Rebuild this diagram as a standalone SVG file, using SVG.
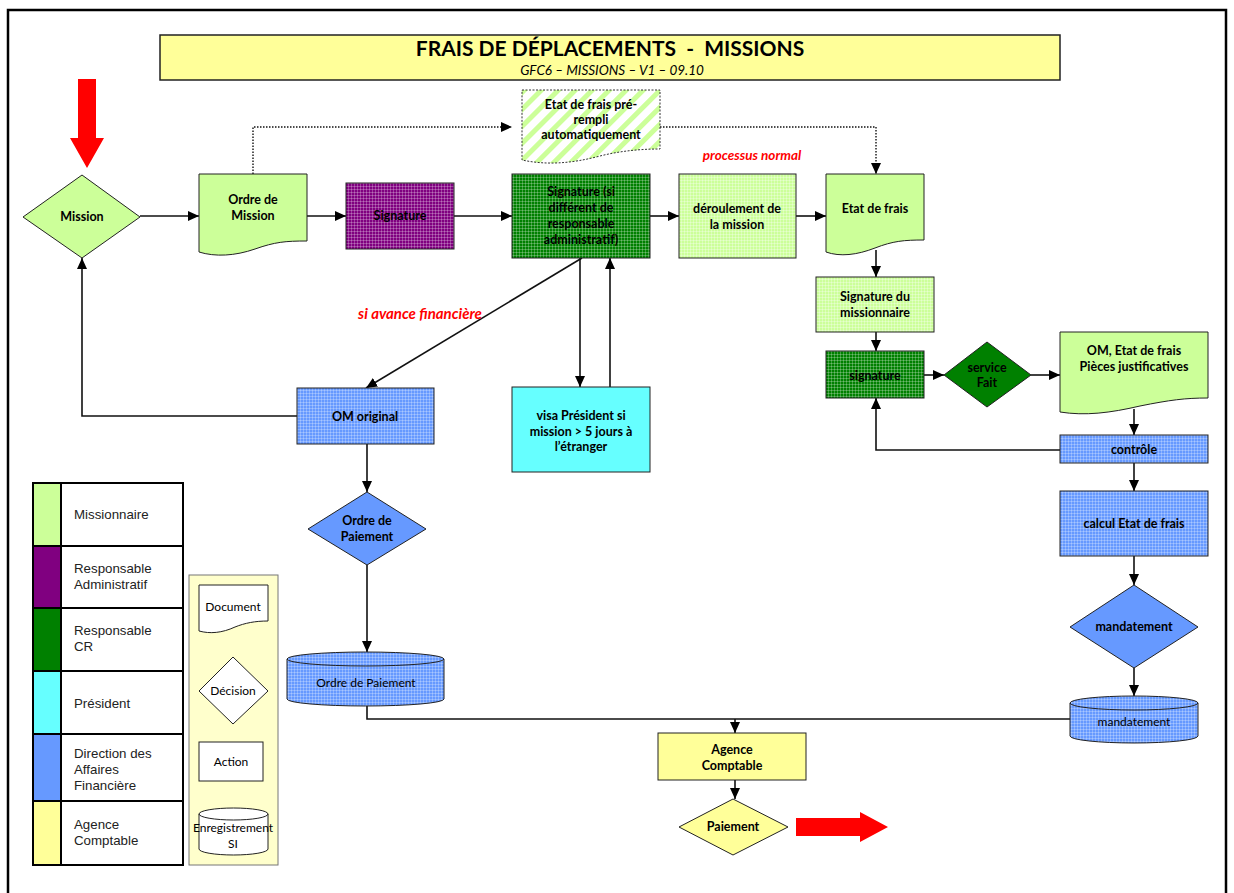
<svg xmlns="http://www.w3.org/2000/svg" width="1234" height="893" viewBox="0 0 1234 893">
  <style>
    .lbl { font-family: Lato, "Liberation Sans", sans-serif; font-weight: bold; font-size: 12.5px; fill: #000; text-anchor: middle; }
    .reg { font-family: Lato, "Liberation Sans", sans-serif; font-size: 12px; fill: #000; text-anchor: middle; }
    .leg { font-family: "Liberation Sans", Arial, sans-serif; font-size: 13.3px; fill: #222; }
    .red { font-family: Lato, "Liberation Sans", sans-serif; font-weight: bold; font-style: italic; fill: #ff0000; text-anchor: middle; }
    .box { stroke: #222; stroke-width: 1.5; }
    .thin { stroke: #222; stroke-width: 1; }
    .conn { fill: none; stroke: #111; stroke-width: 1.6; }
    .dot { fill: none; stroke: #111; stroke-width: 1.4; stroke-dasharray: 1.5 1.5; }
  </style>
  <defs>
    <marker id="arr" markerUnits="userSpaceOnUse" markerWidth="12" markerHeight="10" refX="11" refY="5" orient="auto">
      <path d="M0,0 L11,5 L0,10 Z" fill="#000"/>
    </marker>
    <pattern id="gridGreen" width="3" height="3" patternUnits="userSpaceOnUse">
      <rect width="3" height="3" fill="#008000"/>
      <path d="M0,0.5 H3 M0.5,0 V3" stroke="#ffffff" stroke-opacity="0.25" stroke-width="1"/>
    </pattern>
    <pattern id="gridPurple" width="3" height="3" patternUnits="userSpaceOnUse">
      <rect width="3" height="3" fill="#800080"/>
      <path d="M0,0.5 H3 M0.5,0 V3" stroke="#ffffff" stroke-opacity="0.25" stroke-width="1"/>
    </pattern>
    <pattern id="gridBlue" width="3" height="3" patternUnits="userSpaceOnUse">
      <rect width="3" height="3" fill="#6699ff"/>
      <path d="M0,0.5 H3 M0.5,0 V3" stroke="#ffffff" stroke-opacity="0.25" stroke-width="1"/>
    </pattern>
    <pattern id="gridLight" width="3" height="3" patternUnits="userSpaceOnUse">
      <rect width="3" height="3" fill="#ccff99"/>
      <path d="M0,0.5 H3 M0.5,0 V3" stroke="#ffffff" stroke-opacity="0.3" stroke-width="1"/>
    </pattern>
    <pattern id="hatch" width="12" height="12" patternUnits="userSpaceOnUse" patternTransform="rotate(45)">
      <rect width="12" height="12" fill="#ffffff"/>
      <rect width="5" height="12" fill="#ccff99"/>
    </pattern>
  </defs>

  <!-- page frame -->
  <path d="M8,893 V10 H1226 V893" fill="none" stroke="#000" stroke-width="2.5"/>

  <!-- title -->
  <g id="title">
    <rect x="160" y="35" width="900" height="45" fill="#ffff99" class="box"/>
    <text x="610" y="56" font-family="Lato, 'Liberation Sans', sans-serif" font-weight="bold" font-size="21" text-anchor="middle" xml:space="preserve">FRAIS DE DÉPLACEMENTS  -  MISSIONS</text>
    <text x="612" y="75" font-family="Lato, 'Liberation Sans', sans-serif" font-style="italic" font-size="13.5" text-anchor="middle">GFC6 – MISSIONS – V1 – 09.10</text>
  </g>

  <!-- start / end arrows -->
  <path id="start-arrow" d="M78,79 H96 V138 H104 L87,168 L70,138 H78 Z" fill="#ff0000"/>
  <path id="end-arrow" d="M796,818 H860 V812 L888,827 L860,842 V836 H796 Z" fill="#ff0000"/>

  <!-- connectors -->
  <g id="connectors">
    <path class="dot" d="M253,174 V127 H512" marker-end="url(#arr)"/>
    <path class="dot" d="M660,127 H876 V174" marker-end="url(#arr)"/>
    <path class="conn" d="M140,216 H199" marker-end="url(#arr)"/>
    <path class="conn" d="M307,216 H346" marker-end="url(#arr)"/>
    <path class="conn" d="M454,216 H512" marker-end="url(#arr)"/>
    <path class="conn" d="M650,216 H679" marker-end="url(#arr)"/>
    <path class="conn" d="M796,216 H826" marker-end="url(#arr)"/>
    <path class="conn" d="M876,250 V277" marker-end="url(#arr)"/>
    <path class="conn" d="M876,332 V351" marker-end="url(#arr)"/>
    <path class="conn" d="M924,375 H944" marker-end="url(#arr)"/>
    <path class="conn" d="M1031,375 H1060" marker-end="url(#arr)"/>
    <path class="conn" d="M1134,409 V435" marker-end="url(#arr)"/>
    <path class="conn" d="M1060,450 H876 V398" marker-end="url(#arr)"/>
    <path class="conn" d="M1134,463 V491" marker-end="url(#arr)"/>
    <path class="conn" d="M1134,556 V585" marker-end="url(#arr)"/>
    <path class="conn" d="M1134,668 V696" marker-end="url(#arr)"/>
    <path class="conn" d="M582,258 L366,388" marker-end="url(#arr)"/>
    <path class="conn" d="M580,258 V387" marker-end="url(#arr)"/>
    <path class="conn" d="M610,387 V258" marker-end="url(#arr)"/>
    <path class="conn" d="M297,416 H82 V258" marker-end="url(#arr)"/>
    <path class="conn" d="M367,444 V492" marker-end="url(#arr)"/>
    <path class="conn" d="M367,565 V652" marker-end="url(#arr)"/>
    <path class="conn" d="M367,706 V719 H1070"/>
    <path class="conn" d="M735,719 V733" marker-end="url(#arr)"/>
    <path class="conn" d="M735,780 V799" marker-end="url(#arr)"/>
  </g>

  <!-- connector labels -->
  <text class="red" x="752" y="160" font-size="13.5">processus normal</text>
  <text class="red" x="420" y="319" font-size="15">si avance financière</text>

  <!-- nodes -->
  <g id="n-mission">
    <polygon points="82,175 140,217 82,258 23,217" fill="#ccff99" class="thin"/>
    <text class="lbl" x="82" y="221">Mission</text>
  </g>
  <g id="n-ordre-mission">
    <path d="M199,174 H307 V241 C285,241 275,242 255,249 C235,256 215,257 199,252 Z" fill="#ccff99" class="thin"/>
    <text class="lbl" x="253" y="204">Ordre de</text>
    <text class="lbl" x="253" y="220">Mission</text>
  </g>
  <g id="n-signature-ra">
    <rect x="346" y="183" width="108" height="66" fill="url(#gridPurple)" class="thin"/>
    <text class="lbl" x="400" y="220">Signature</text>
  </g>
  <g id="n-prerempli">
    <path d="M522,90 H660 V149 C640,149 620,151 600,156 C570,164 545,165 522,160 Z" fill="url(#hatch)" stroke="#333" stroke-width="1" stroke-dasharray="2 1.5"/>
    <text class="lbl" x="591" y="109">Etat de frais pré-</text>
    <text class="lbl" x="591" y="124">rempli</text>
    <text class="lbl" x="591" y="139">automatiquement</text>
  </g>
  <g id="n-signature-cr">
    <rect x="512" y="174" width="138" height="84" fill="url(#gridGreen)" class="thin"/>
    <text class="lbl" x="581" y="196">Signature (si</text>
    <text class="lbl" x="581" y="212">différent de</text>
    <text class="lbl" x="581" y="228">responsable</text>
    <text class="lbl" x="581" y="244">administratif)</text>
  </g>
  <g id="n-deroulement">
    <rect x="679" y="174" width="117" height="84" fill="url(#gridLight)" class="thin"/>
    <text class="lbl" x="737" y="213">déroulement de</text>
    <text class="lbl" x="737" y="229">la mission</text>
  </g>
  <g id="n-etat-frais">
    <path d="M826,174 H924 V240 C904,240 893,241 875,248 C857,255 840,257 826,252 Z" fill="#ccff99" class="thin"/>
    <text class="lbl" x="875" y="213">Etat de frais</text>
  </g>
  <g id="n-signature-missionnaire">
    <rect x="816" y="277" width="118" height="55" fill="url(#gridLight)" class="thin"/>
    <text class="lbl" x="875" y="301">Signature du</text>
    <text class="lbl" x="875" y="317">missionnaire</text>
  </g>
  <g id="n-signature">
    <rect x="826" y="351" width="98" height="47" fill="url(#gridGreen)" class="thin"/>
    <text class="lbl" x="875" y="380">signature</text>
  </g>
  <g id="n-service-fait">
    <polygon points="987,342 1031,375 987,407 944,375" fill="#008000" class="thin"/>
    <text class="lbl" x="987" y="372">service</text>
    <text class="lbl" x="987" y="387">Fait</text>
  </g>
  <g id="n-pieces">
    <path d="M1060,332 H1208 V398 C1185,398 1170,400 1140,406 C1110,413 1085,416 1060,412 Z" fill="#ccff99" class="thin"/>
    <text class="lbl" x="1134" y="355">OM, Etat de frais</text>
    <text class="lbl" x="1134" y="371">Pièces justificatives</text>
  </g>
  <g id="n-controle">
    <rect x="1060" y="435" width="148" height="28" fill="url(#gridBlue)" class="thin"/>
    <text class="lbl" x="1134" y="454">contrôle</text>
  </g>
  <g id="n-calcul">
    <rect x="1060" y="491" width="148" height="65" fill="url(#gridBlue)" class="thin"/>
    <text class="lbl" x="1134" y="528">calcul Etat de frais</text>
  </g>
  <g id="n-mandatement">
    <polygon points="1134,585 1198,627 1134,668 1070,627" fill="#6699ff" class="thin"/>
    <text class="lbl" x="1134" y="631">mandatement</text>
  </g>
  <g id="n-mandatement-si">
    <path d="M1070,703 A64,7 0 0 1 1198,703 V736 A64,7 0 0 1 1070,736 Z" fill="url(#gridBlue)" class="thin"/>
    <path d="M1070,703 A64,7 0 0 0 1198,703" fill="none" class="thin"/>
    <text class="reg" x="1134" y="726">mandatement</text>
  </g>
  <g id="n-om-original">
    <rect x="297" y="388" width="137" height="56" fill="url(#gridBlue)" class="thin"/>
    <text class="lbl" x="365" y="421">OM original</text>
  </g>
  <g id="n-visa">
    <rect x="512" y="387" width="138" height="85" fill="#66ffff" class="thin"/>
    <text class="lbl" x="581" y="420">visa Président si</text>
    <text class="lbl" x="581" y="436">mission &gt; 5 jours à</text>
    <text class="lbl" x="581" y="451">l’étranger</text>
  </g>
  <g id="n-ordre-paiement">
    <polygon points="367,492 426,529 367,565 308,529" fill="#6699ff" class="thin"/>
    <text class="lbl" x="367" y="525">Ordre de</text>
    <text class="lbl" x="367" y="541">Paiement</text>
  </g>
  <g id="n-ordre-paiement-si">
    <path d="M287,659 A78.5,7 0 0 1 444,659 V699 A78.5,7 0 0 1 287,699 Z" fill="url(#gridBlue)" class="thin"/>
    <path d="M287,659 A78.5,7 0 0 0 444,659" fill="none" class="thin"/>
    <text class="reg" x="366" y="687">Ordre de Paiement</text>
  </g>
  <g id="n-agence">
    <rect x="658" y="733" width="148" height="47" fill="#ffff99" class="thin"/>
    <text class="lbl" x="732" y="754">Agence</text>
    <text class="lbl" x="732" y="770">Comptable</text>
  </g>
  <g id="n-paiement">
    <polygon points="733,799 788,827 733,855 679,827" fill="#ffff99" class="thin"/>
    <text class="lbl" x="733" y="831">Paiement</text>
  </g>

  <!-- legend: actors -->
  <g id="legend-actors">
    <rect x="33" y="483" width="28" height="63" fill="#ccff99"/>
    <rect x="33" y="546" width="28" height="62" fill="#800080"/>
    <rect x="33" y="608" width="28" height="63" fill="#008000"/>
    <rect x="33" y="671" width="28" height="63" fill="#66ffff"/>
    <rect x="33" y="734" width="28" height="67" fill="#6699ff"/>
    <rect x="33" y="801" width="28" height="64" fill="#ffff99"/>
    <path d="M33,483 H183 V865 H33 Z M61,483 V865 M33,546 H183 M33,608 H183 M33,671 H183 M33,734 H183 M33,801 H183" fill="none" stroke="#000" stroke-width="2"/>
    <text class="leg" x="74" y="519">Missionnaire</text>
    <text class="leg" x="74" y="573">Responsable</text>
    <text class="leg" x="74" y="589">Administratif</text>
    <text class="leg" x="74" y="635">Responsable</text>
    <text class="leg" x="74" y="651">CR</text>
    <text class="leg" x="74" y="708">Président</text>
    <text class="leg" x="74" y="758">Direction des</text>
    <text class="leg" x="74" y="774">Affaires</text>
    <text class="leg" x="74" y="790">Financière</text>
    <text class="leg" x="74" y="829">Agence</text>
    <text class="leg" x="74" y="845">Comptable</text>
  </g>

  <!-- legend: shapes -->
  <g id="legend-shapes">
    <rect x="189" y="575" width="89" height="290" fill="#ffffcc" stroke="#777" stroke-width="1"/>
    <path d="M199,585 H268 V621 C255,621 245,623 235,627 C222,633 210,634 199,631 Z" fill="#fff" class="thin"/>
    <text class="reg" x="233" y="611">Document</text>
    <polygon points="233,657 268,691 233,724 199,691" fill="#fff" class="thin"/>
    <text class="reg" x="233" y="695">Décision</text>
    <rect x="199" y="742" width="64" height="39" fill="#fff" class="thin"/>
    <text class="reg" x="231" y="766">Action</text>
    <path d="M199,814 A34.5,6 0 0 1 268,814 V849 A34.5,6 0 0 1 199,849 Z" fill="#fff" class="thin"/>
    <path d="M199,814 A34.5,6 0 0 0 268,814" fill="none" class="thin"/>
    <text class="reg" x="233" y="832">Enregistrement</text>
    <text class="reg" x="233" y="848">SI</text>
  </g>
</svg>
